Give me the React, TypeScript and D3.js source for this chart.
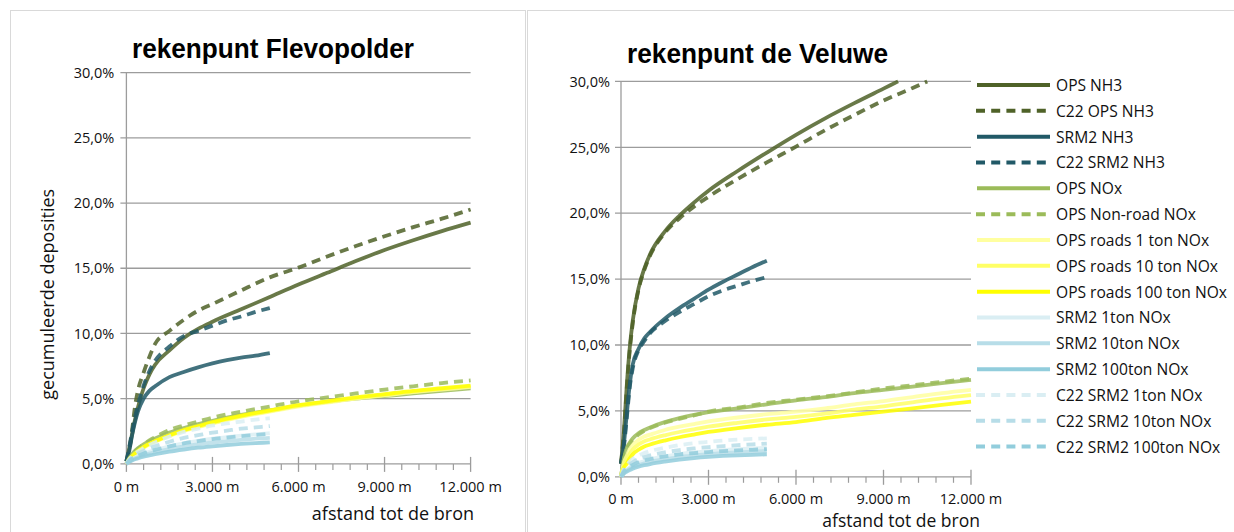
import React from "react";
import * as d3 from "d3";

// ---------- distances (m) ----------
const DIST_OPS = [0, 100, 200, 300, 400, 600, 800, 1000, 1500, 2000, 2500, 3000, 4000, 5000, 6000, 7000, 8000, 9000, 10000, 11000, 12000];
const DIST_SRM = [0, 100, 200, 300, 400, 600, 800, 1000, 1500, 2000, 2500, 3000, 3500, 4000, 4500, 5000];
const DIST_VEL_OPS_NH3 = [0, 100, 200, 300, 400, 600, 800, 1000, 1500, 2000, 2500, 3000, 4000, 5000, 6000, 7000, 8000, 9000, 9500];
const DIST_VEL_C22_OPS_NH3 = [0, 100, 200, 300, 400, 600, 800, 1000, 1500, 2000, 2500, 3000, 4000, 5000, 6000, 7000, 8000, 9000, 10000, 10500];

// ---------- series ----------
const SERIES_NAMES = [
  "OPS NH3", "C22 OPS NH3", "SRM2 NH3", "C22 SRM2 NH3", "OPS NOx", "OPS Non-road NOx",
  "OPS roads 1 ton NOx", "OPS roads 10 ton NOx", "OPS roads 100 ton NOx",
  "SRM2 1ton NOx", "SRM2 10ton NOx", "SRM2 100ton NOx",
  "C22 SRM2 1ton NOx", "C22 SRM2 10ton NOx", "C22 SRM2 100ton NOx",
];
const SERIES_COLORS = [
  "#4f6228", "#4f6228", "#215967", "#215967", "#9bbb59", "#9bbb59",
  "#ffffa0", "#ffff66", "#ffff00",
  "#daeef3", "#b7dde8", "#92cddc",
  "#daeef3", "#b7dde8", "#92cddc",
];
const SERIES_DASHED = [false, true, false, true, false, true, false, false, false, false, false, false, true, true, true];

// ---------- rekenpunt Flevopolder (%) ----------
const FLEVO_OPS_NH3 = [0.2, 1.2, 2.3, 3.4, 4.3, 5.8, 6.85, 7.6, 8.7, 9.65, 10.35, 10.9, 11.85, 12.8, 13.75, 14.65, 15.55, 16.4, 17.15, 17.85, 18.5];
const FLEVO_C22_OPS_NH3 = [0.2, 1.0, 2.6, 4.4, 5.6, 7.0, 8.2, 9.2, 10.2, 11.05, 11.75, 12.25, 13.3, 14.3, 15.05, 15.9, 16.7, 17.45, 18.15, 18.8, 19.5];
const FLEVO_SRM2_NH3 = [0.2, 1.0, 2.2, 3.2, 4.0, 5.0, 5.6, 5.95, 6.65, 7.05, 7.4, 7.7, 7.95, 8.15, 8.3, 8.5];
const FLEVO_C22_SRM2_NH3 = [0.2, 1.3, 2.5, 3.6, 4.5, 6.0, 7.1, 7.9, 9.0, 9.8, 10.2, 10.6, 11.0, 11.3, 11.65, 11.95];
const FLEVO_OPS_NOX = [0, 0.45, 0.75, 1.0, 1.2, 1.5, 1.75, 1.95, 2.4, 2.75, 3.05, 3.3, 3.75, 4.1, 4.45, 4.75, 5.0, 5.2, 5.4, 5.6, 5.8];
const FLEVO_OPS_NONROAD = [0, 0.4, 0.7, 0.95, 1.15, 1.5, 1.8, 2.05, 2.6, 2.95, 3.25, 3.55, 4.0, 4.4, 4.8, 5.1, 5.4, 5.7, 5.95, 6.2, 6.4];
const FLEVO_ROADS_1 = [0, 0.3, 0.55, 0.75, 0.94, 1.24, 1.5, 1.7, 2.14, 2.52, 2.82, 3.1, 3.6, 4.0, 4.4, 4.7, 5.0, 5.25, 5.5, 5.7, 5.9];
const FLEVO_ROADS_10 = [0, 0.33, 0.57, 0.77, 0.97, 1.27, 1.52, 1.72, 2.17, 2.56, 2.86, 3.15, 3.65, 4.05, 4.45, 4.75, 5.05, 5.3, 5.55, 5.75, 5.95];
const FLEVO_ROADS_100 = [0, 0.35, 0.6, 0.8, 1.0, 1.3, 1.55, 1.75, 2.2, 2.6, 2.9, 3.2, 3.7, 4.1, 4.5, 4.8, 5.1, 5.35, 5.6, 5.8, 6.0];
const FLEVO_SRM2_1 = [0, 0.22, 0.38, 0.5, 0.6, 0.78, 0.93, 1.06, 1.35, 1.58, 1.77, 1.93, 2.06, 2.17, 2.27, 2.35];
const FLEVO_SRM2_10 = [0, 0.18, 0.32, 0.42, 0.51, 0.66, 0.79, 0.9, 1.14, 1.34, 1.5, 1.64, 1.75, 1.85, 1.93, 2.0];
const FLEVO_SRM2_100 = [0, 0.15, 0.26, 0.35, 0.42, 0.55, 0.65, 0.74, 0.94, 1.1, 1.24, 1.35, 1.45, 1.53, 1.59, 1.65];
const FLEVO_C22_1 = [0, 0.35, 0.6, 0.8, 0.95, 1.2, 1.45, 1.65, 2.1, 2.45, 2.7, 2.95, 3.1, 3.25, 3.4, 3.5];
const FLEVO_C22_10 = [0, 0.3, 0.5, 0.65, 0.78, 1.0, 1.2, 1.35, 1.7, 2.0, 2.2, 2.4, 2.55, 2.7, 2.8, 2.9];
const FLEVO_C22_100 = [0, 0.22, 0.4, 0.52, 0.62, 0.8, 0.95, 1.07, 1.35, 1.57, 1.75, 1.9, 2.02, 2.13, 2.22, 2.3];

// ---------- rekenpunt de Veluwe (%) ----------
const VEL_OPS_NH3 = [1.0, 3.5, 7.0, 9.8, 11.8, 14.3, 15.8, 16.9, 18.6, 19.8, 20.8, 21.7, 23.2, 24.6, 25.95, 27.2, 28.35, 29.45, 30.0];
const VEL_C22_OPS_NH3 = [1.0, 3.3, 6.8, 9.6, 11.6, 14.2, 15.7, 16.8, 18.5, 19.6, 20.5, 21.25, 22.6, 23.85, 25.05, 26.3, 27.45, 28.55, 29.5, 30.0];
const VEL_SRM2_NH3 = [1.0, 2.5, 4.8, 7.0, 8.5, 9.7, 10.5, 11.0, 12.0, 12.8, 13.5, 14.2, 14.8, 15.35, 15.9, 16.4];
const VEL_C22_SRM2_NH3 = [1.0, 2.3, 4.5, 6.8, 8.2, 9.6, 10.3, 10.9, 11.8, 12.5, 13.1, 13.7, 14.15, 14.5, 14.85, 15.15];
const VEL_OPS_NOX = [0, 1.4, 2.2, 2.6, 2.9, 3.3, 3.55, 3.75, 4.15, 4.45, 4.7, 4.9, 5.2, 5.5, 5.8, 6.05, 6.35, 6.6, 6.85, 7.1, 7.35];
const VEL_OPS_NONROAD = [0, 1.3, 2.1, 2.5, 2.8, 3.2, 3.5, 3.7, 4.1, 4.4, 4.65, 4.95, 5.25, 5.6, 5.85, 6.1, 6.4, 6.7, 6.95, 7.2, 7.45];
const VEL_ROADS_1 = [0, 1.1, 1.6, 2.1, 2.4, 2.8, 3.05, 3.2, 3.55, 3.8, 4.0, 4.2, 4.5, 4.75, 4.95, 5.2, 5.5, 5.75, 6.05, 6.35, 6.6];
const VEL_ROADS_10 = [0, 0.9, 1.3, 1.75, 2.05, 2.45, 2.7, 2.85, 3.15, 3.4, 3.6, 3.8, 4.1, 4.35, 4.55, 4.8, 5.1, 5.35, 5.65, 5.95, 6.2];
const VEL_ROADS_100 = [0, 0.7, 1.0, 1.4, 1.7, 2.05, 2.3, 2.45, 2.75, 3.0, 3.2, 3.4, 3.7, 3.95, 4.15, 4.45, 4.7, 4.95, 5.2, 5.45, 5.7];
const VEL_SRM2_1 = [0, 0.35, 0.55, 0.72, 0.85, 1.05, 1.2, 1.32, 1.55, 1.72, 1.85, 1.95, 2.03, 2.1, 2.15, 2.2];
const VEL_SRM2_10 = [0, 0.3, 0.47, 0.62, 0.73, 0.9, 1.03, 1.13, 1.33, 1.5, 1.62, 1.72, 1.8, 1.86, 1.91, 1.95];
const VEL_SRM2_100 = [0, 0.25, 0.4, 0.52, 0.62, 0.77, 0.88, 0.97, 1.15, 1.3, 1.42, 1.51, 1.58, 1.63, 1.67, 1.7];
const VEL_C22_1 = [0, 0.6, 0.9, 1.15, 1.35, 1.6, 1.8, 1.95, 2.2, 2.4, 2.55, 2.65, 2.75, 2.82, 2.87, 2.92];
const VEL_C22_10 = [0, 0.5, 0.75, 0.95, 1.1, 1.35, 1.5, 1.62, 1.85, 2.02, 2.15, 2.25, 2.33, 2.4, 2.46, 2.52];
const VEL_C22_100 = [0, 0.4, 0.6, 0.78, 0.9, 1.1, 1.25, 1.35, 1.55, 1.7, 1.8, 1.88, 1.95, 2.0, 2.05, 2.1];

// ---------- axes ----------
const Y_TICKS = [0, 5, 10, 15, 20, 25, 30];
const X_TICKS = [0, 3000, 6000, 9000, 12000];
const X_MINOR_STEP = 600;

const FLEVO_SERIES = [
  [DIST_OPS, FLEVO_OPS_NH3], [DIST_OPS, FLEVO_C22_OPS_NH3], [DIST_SRM, FLEVO_SRM2_NH3], [DIST_SRM, FLEVO_C22_SRM2_NH3],
  [DIST_OPS, FLEVO_OPS_NOX], [DIST_OPS, FLEVO_OPS_NONROAD],
  [DIST_OPS, FLEVO_ROADS_1], [DIST_OPS, FLEVO_ROADS_10], [DIST_OPS, FLEVO_ROADS_100],
  [DIST_SRM, FLEVO_SRM2_1], [DIST_SRM, FLEVO_SRM2_10], [DIST_SRM, FLEVO_SRM2_100],
  [DIST_SRM, FLEVO_C22_1], [DIST_SRM, FLEVO_C22_10], [DIST_SRM, FLEVO_C22_100],
];
const VEL_SERIES = [
  [DIST_VEL_OPS_NH3, VEL_OPS_NH3], [DIST_VEL_C22_OPS_NH3, VEL_C22_OPS_NH3], [DIST_SRM, VEL_SRM2_NH3], [DIST_SRM, VEL_C22_SRM2_NH3],
  [DIST_OPS, VEL_OPS_NOX], [DIST_OPS, VEL_OPS_NONROAD],
  [DIST_OPS, VEL_ROADS_1], [DIST_OPS, VEL_ROADS_10], [DIST_OPS, VEL_ROADS_100],
  [DIST_SRM, VEL_SRM2_1], [DIST_SRM, VEL_SRM2_10], [DIST_SRM, VEL_SRM2_100],
  [DIST_SRM, VEL_C22_1], [DIST_SRM, VEL_C22_10], [DIST_SRM, VEL_C22_100],
];

const nl = d3.formatLocale({ decimal: ",", thousands: ".", grouping: [3], currency: ["", ""] });
const fmtX = (v: number) => nl.format(",")(v) + " m";
const fmtY = (v: number) => nl.format(".1f")(v) + "%";

const FONT = "'Open Sans', 'DejaVu Sans', sans-serif";
const GRID = "#9c9c9c";

type PanelProps = {
  series: number[][][];
  x0: number; x1: number; y0: number; y1: number;
  title: string; titleX: number; titleY: number; titleLen: number;
  yLabelRight: number; xLabelY: number; axisTitleX: number; axisTitleY: number; axisTitleSize: number;
  yTitle?: boolean;
};

function Panel(p: PanelProps) {
  const x = d3.scaleLinear().domain([0, 12000]).range([p.x0, p.x1]);
  const y = d3.scaleLinear().domain([0, 30]).range([p.y0, p.y1]);
  const line = d3.line<[number, number]>().x((d) => x(d[0])).y((d) => y(d[1])).curve(d3.curveMonotoneX);
  const minors = d3.range(0, 12000 + 1, X_MINOR_STEP).filter((v) => !X_TICKS.includes(v));
  return (
    <g>
      <text x={p.titleX} y={p.titleY} textAnchor="middle" fontFamily="'Liberation Sans', Arial, sans-serif"
        fontWeight="bold" fontSize={27} textLength={p.titleLen} lengthAdjust="spacingAndGlyphs" fill="#000">{p.title}</text>
      {Y_TICKS.map((t) => (
        <g key={"y" + t}>
          <line x1={p.x0 - 6} x2={p.x1} y1={y(t)} y2={y(t)} stroke={GRID} strokeWidth={1.3} />
          <text x={p.yLabelRight} y={y(t)} dy="0.36em" textAnchor="end" fontFamily={FONT} fontSize={14.5} fill="#111">{fmtY(t)}</text>
        </g>
      ))}
      <line x1={p.x0} x2={p.x0} y1={y(30)} y2={y(0)} stroke={GRID} strokeWidth={1.3} />
      {X_TICKS.map((t) => (
        <g key={"x" + t}>
          <line x1={x(t)} x2={x(t)} y1={y(0) - 7} y2={y(0) + 8} stroke={GRID} strokeWidth={1.3} />
          <text x={x(t)} y={p.xLabelY} textAnchor="middle" fontFamily={FONT} fontSize={14.5} fill="#111">{fmtX(t)}</text>
        </g>
      ))}
      {minors.map((t) => (
        <line key={"m" + t} x1={x(t)} x2={x(t)} y1={y(0)} y2={y(0) + 6} stroke={GRID} strokeWidth={1.2} />
      ))}
      <text x={p.axisTitleX} y={p.axisTitleY} textAnchor="end" fontFamily={FONT} fontSize={p.axisTitleSize} fill="#111">afstand tot de bron</text>
      {p.yTitle && (
        <text transform={`translate(54,${(p.y0 + p.y1) / 2 + 26}) rotate(-90)`} textAnchor="middle" fontFamily={FONT} fontSize={18} fill="#111">gecumuleerde deposities</text>
      )}
      {p.series.map((s, i) => {
        const pts = s[0].map((d, k) => [d, s[1][k]] as [number, number]);
        return (
          <path key={"s" + i} d={line(pts) || ""} fill="none" stroke={SERIES_COLORS[i]} strokeOpacity={0.85}
            strokeWidth={3.8} strokeDasharray={SERIES_DASHED[i] ? "9,6" : undefined} strokeLinejoin="round" />
        );
      })}
    </g>
  );
}

function Legend() {
  const top = 85;
  const step = 25.83;
  return (
    <g>
      {SERIES_NAMES.map((n, i) => {
        const cy = top + i * step;
        return (
          <g key={n}>
            {SERIES_DASHED[i] ? (
              <line x1={976} x2={1046} y1={cy} y2={cy} stroke={SERIES_COLORS[i]} strokeWidth={4} strokeDasharray="9,6.2" />
            ) : (
              <line x1={977} x2={1050} y1={cy} y2={cy} stroke={SERIES_COLORS[i]} strokeWidth={4} />
            )}
            <text x={1056} y={cy + 6} fontFamily={FONT} fontSize={15.6} fill="#111">{n}</text>
          </g>
        );
      })}
    </g>
  );
}

export default function App() {
  return (
    <svg width={1234} height={532} style={{ position: "absolute", left: 0, top: 0, background: "#fff" }}>
      <rect x={0} y={0} width={1234} height={532} fill="#fff" />
      <rect x={10.5} y={10.5} width={515} height={530} fill="none" stroke="#d9d9d9" strokeWidth={1} />
      <rect x={527.5} y={10.5} width={720} height={540} fill="none" stroke="#d9d9d9" strokeWidth={1} />
      <Panel series={FLEVO_SERIES} x0={126.4} x1={470.6} y0={463.9} y1={72.6}
        title="rekenpunt Flevopolder" titleX={273} titleY={57.7} titleLen={282}
        yLabelRight={114.3} xLabelY={492} axisTitleX={474} axisTitleY={519.5} axisTitleSize={18} yTitle />
      <Panel series={VEL_SERIES} x0={621} x1={971} y0={476.8} y1={81.4}
        title="rekenpunt de Veluwe" titleX={757.5} titleY={62.8} titleLen={261}
        yLabelRight={610} xLabelY={503.5} axisTitleX={980} axisTitleY={526.8} axisTitleSize={17.5} />
      <Legend />
    </svg>
  );
}
